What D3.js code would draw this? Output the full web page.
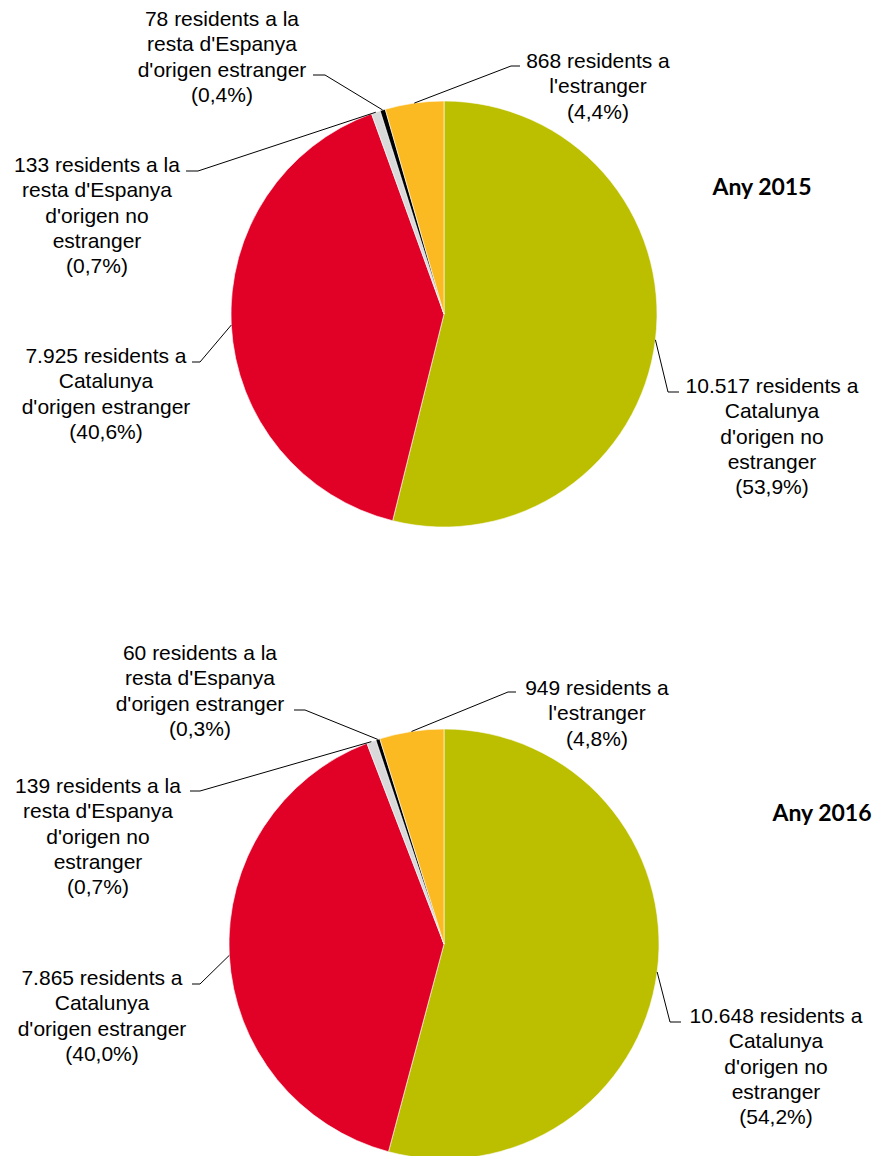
<!DOCTYPE html>
<html>
<head>
<meta charset="utf-8">
<script src="https://cdn.jsdelivr.net/npm/d3@7"></script>
<style>
  body { margin: 0; background: #fff; }
  svg { display: block; }
  .lbl { font-family: "Liberation Sans", Arial, sans-serif; font-size: 21px; fill: #000; }
  .title { font-family: Lato, "Open Sans", sans-serif; font-weight: bold; font-size: 23px; fill: #000; }
</style>
</head>
<body>
<script>

// categories (same order in both years, clockwise from 12 o'clock)
const categories = [
    "Catalunya d'origen no estranger",
    "Catalunya d'origen estranger",
    "resta d'Espanya d'origen no estranger",
    "resta d'Espanya d'origen estranger",
    "l'estranger"
];

const colors = ["#bcbe00", "#e10026", "#d9d9d9", "#000000", "#fbba22"];

// residents per year
const values2015 = [10517, 7925, 133, 78, 868];
const values2016 = [10648, 7865, 139, 60, 949];

// label text lines
const labels2015 = [
    ["10.517 residents a", "Catalunya", "d'origen no", "estranger", "(53,9%)"],
    ["7.925 residents a", "Catalunya", "d'origen estranger", "(40,6%)"],
    ["133 residents a la", "resta d'Espanya", "d'origen no", "estranger", "(0,7%)"],
    ["78 residents a la", "resta d'Espanya", "d'origen estranger", "(0,4%)"],
    ["868 residents a", "l'estranger", "(4,4%)"]
];
const labels2016 = [
    ["10.648 residents a", "Catalunya", "d'origen no", "estranger", "(54,2%)"],
    ["7.865 residents a", "Catalunya", "d'origen estranger", "(40,0%)"],
    ["139 residents a la", "resta d'Espanya", "d'origen no", "estranger", "(0,7%)"],
    ["60 residents a la", "resta d'Espanya", "d'origen estranger", "(0,3%)"],
    ["949 residents a", "l'estranger", "(4,8%)"]
];

// layout of each pie and its labels (text centre x, first baseline y, elbow x/y, tick end x)
const layouts = [
    {
        year: "Any 2015", cx: 444, cy: 314, r: 213, titleX: 762, titleY: 195,
        values: values2015, labels: labels2015,
        place: [
            {tx: 772, ty: 393, ex: 668, ey: 392, endX: 679},
            {tx: 106, ty: 363, ex: 200, ey: 362, endX: 192},
            {tx: 97,  ty: 172, ex: 198, ey: 171, endX: 186},
            {tx: 222, ty: 26,  ex: 325, ey: 75,  endX: 313},
            {tx: 598, ty: 68,  ex: 511, ey: 66,  endX: 520}
        ]
    },
    {
        year: "Any 2016", cx: 444, cy: 944, r: 215, titleX: 822, titleY: 821,
        values: values2016, labels: labels2016,
        place: [
            {tx: 776, ty: 1023, ex: 670, ey: 1022, endX: 681},
            {tx: 102, ty: 985,  ex: 200, ey: 984,  endX: 192},
            {tx: 98,  ty: 793,  ex: 200, ey: 791,  endX: 190},
            {tx: 200, ty: 660,  ex: 305, ey: 710,  endX: 294},
            {tx: 597, ty: 695,  ex: 508, ey: 692,  endX: 516}
        ]
    }
];

const lineHeight = 25.3;

const svg = d3.select("body").append("svg")
    .attr("width", 879)
    .attr("height", 1156);

const pie = d3.pie().sort(null).value(d => d);

layouts.forEach(function (lay) {
    const arcs = pie(lay.values);
    const arc = d3.arc().innerRadius(0).outerRadius(lay.r);
    const edge = d3.arc().innerRadius(lay.r).outerRadius(lay.r);

    const g = svg.append("g")
        .attr("transform", "translate(" + lay.cx + "," + lay.cy + ")");

    g.selectAll("path.slice")
        .data(arcs)
        .join("path")
        .attr("class", "slice")
        .attr("d", arc)
        .attr("fill", (d, i) => colors[i])
        .attr("stroke", "#fff")
        .attr("stroke-width", 0.6);

    // leader lines
    svg.append("g").selectAll("polyline")
        .data(arcs)
        .join("polyline")
        .attr("fill", "none")
        .attr("stroke", "#000")
        .attr("stroke-width", 1)
        .attr("points", function (d, i) {
            const c = edge.centroid(d);
            const p = lay.place[i];
            return [[lay.cx + c[0], lay.cy + c[1]], [p.ex, p.ey], [p.endX, p.ey]].join(" ");
        });

    // labels
    lay.labels.forEach(function (lines, i) {
        const p = lay.place[i];
        const t = svg.append("text")
            .attr("class", "lbl")
            .attr("text-anchor", "middle");
        lines.forEach(function (line, k) {
            t.append("tspan")
                .attr("x", p.tx)
                .attr("y", p.ty + k * lineHeight)
                .text(line);
        });
    });

    svg.append("text")
        .attr("class", "title")
        .attr("x", lay.titleX)
        .attr("y", lay.titleY)
        .attr("text-anchor", "middle")
        .text(lay.year);
});
</script>
</body>
</html>
